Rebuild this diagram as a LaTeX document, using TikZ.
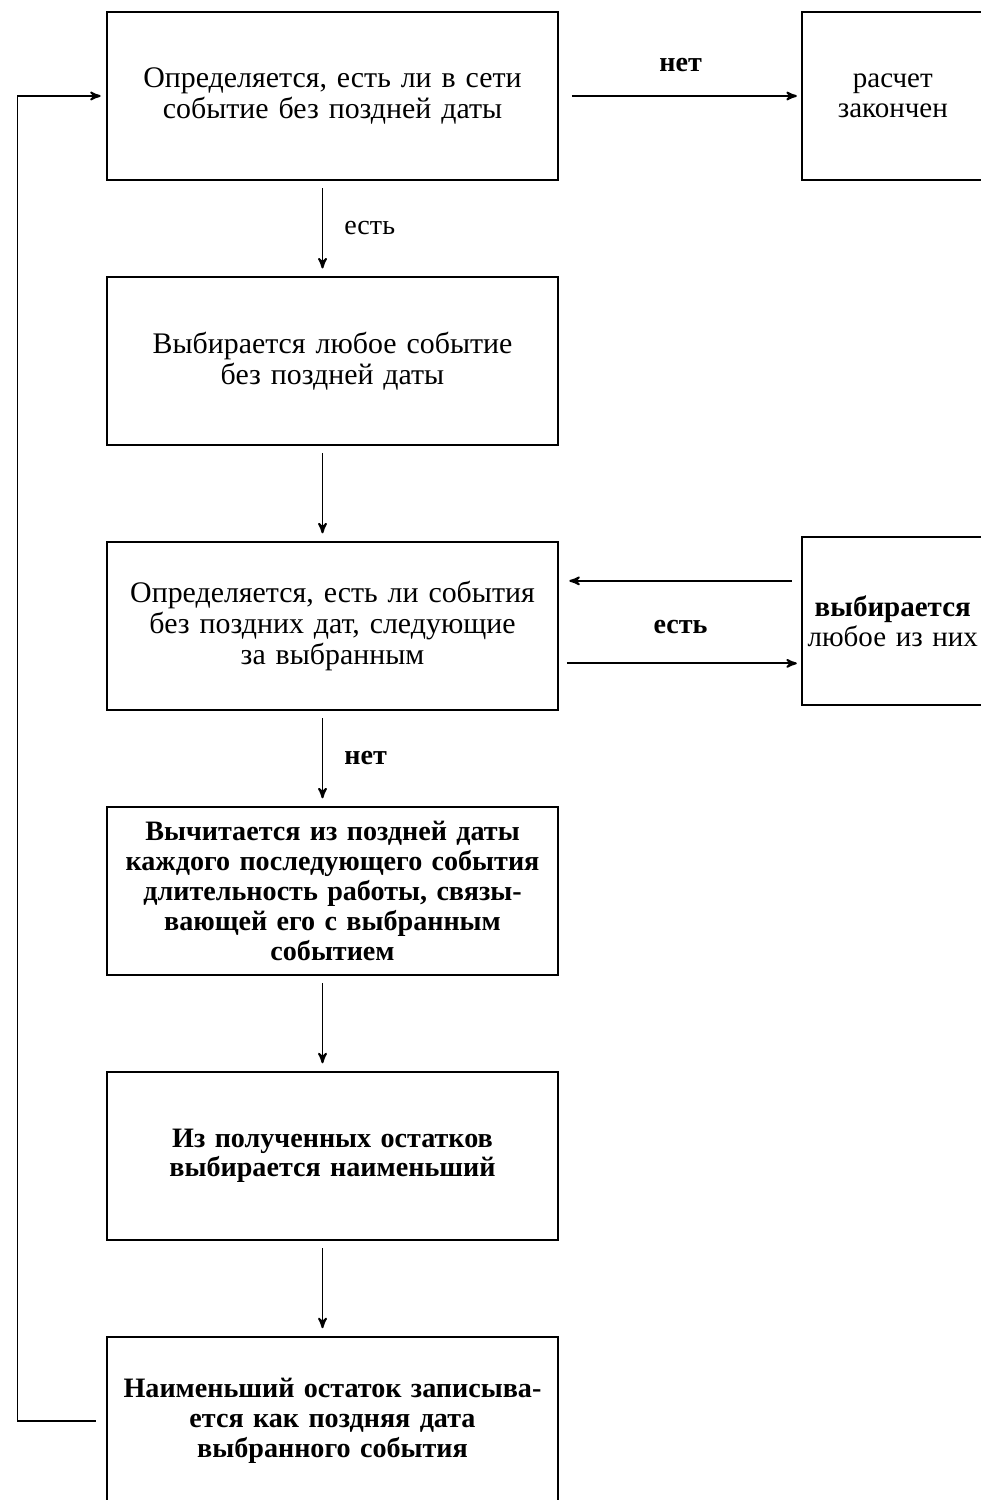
\documentclass[tikz,border=0pt]{standalone}
\usepackage{fontspec}
\setmainfont{Liberation Serif}
\usetikzlibrary{arrows,positioning}
\tikzset{
    %Define standard arrow tip
    >=stealth',
    blok/.style={
      rectangle,
      draw=black,
      minimum width=8.9cm,
      minimum height=3.36cm,
      text width=8.8cm,
      align=center,
      font=\fontsize{17}{17.5}\selectfont},
    zhirblok/.style={
      blok,
      font=\fontsize{16}{17}\selectfont\bfseries},
    itog/.style={
      rectangle,
      minimum width=3.6cm,
      minimum height=3.32cm,
      text width=3.6cm,
      inner sep=0pt,
      align=center,
      font=\fontsize{16.5}{17}\selectfont},
    metka/.style={
      font=\fontsize{16}{17}\selectfont},
    strelka/.style={
      ->, shorten <=0.15cm, shorten >=0.15cm},
}

\begin{document}
\begin{tikzpicture}[node distance=1.9cm, line width=1.1pt]
    \useasboundingbox (0,0) rectangle (19.6,-30);
    \node (b1) [blok] at (6.65,-1.92)
          {Определяется, есть ли в сети\\событие без поздней даты};
    \node (b2) [blok] [below=of b1]
          {Выбирается любое событие\\без поздней даты};
    \node (b3) [blok] [below=of b2]
          {Определяется, есть ли события\\без поздних дат, следующие\\за выбранным};
    \node (b4) [zhirblok] [below=of b3]
          {Вычитается из поздней даты\\каждого последующего события\\длительность работы, связы-\\вающей его с выбранным\\событием};
    \node (b5) [zhirblok] [below=of b4]
          {Из полученных остатков\\выбирается наименьший};
    \node (b6) [zhirblok] [below=of b5]
          {Наименьший остаток записыва-\\ется как поздняя дата\\выбранного события};
    \node (konec) [itog] [right=4.85cm of b1]
          {расчет\\закончен};
    \node (vybor) [itog] [right=4.85cm of b3, yshift=0.1cm]
          {\textbf{выбирается}\\любое из них};
    \coordinate (obhod) at (0.35,0);

    % open boxes on the right
    \draw (konec.north east) -- (konec.north west)
          -- (konec.south west) -- (konec.south east);
    \draw (vybor.north east) -- (vybor.north west)
          -- (vybor.south west) -- (vybor.south east);

    % connectors
    \draw [strelka, shorten <=0.25cm, shorten >=0.1cm] (b1.east) -- (konec.west)
          node [metka, midway, above=0.35cm] {\textbf{нет}};
    \draw [strelka] ([xshift=-2mm]b1.south) -- ([xshift=-2mm]b2.north)
          node [metka, midway, right=0.3cm] {есть};
    \draw [strelka] ([xshift=-2mm]b2.south) -- ([xshift=-2mm]b3.north);
    \draw [strelka, shorten <=0.2cm, shorten >=0.2cm] ([yshift=0.9cm]b3.east -| vybor.west) -- ([yshift=0.9cm]b3.east);
    \draw [strelka, shorten >=0.1cm] ([yshift=-0.75cm]b3.east) -- ([yshift=-0.75cm]b3.east -| vybor.west)
          node [metka, midway, above=0.45cm] {\textbf{есть}};
    \draw [strelka] ([xshift=-2mm]b3.south) -- ([xshift=-2mm]b4.north)
          node [metka, midway, right=0.3cm] {\textbf{нет}};
    \draw [strelka] ([xshift=-2mm]b4.south) -- ([xshift=-2mm]b5.north);
    \draw [strelka] ([xshift=-2mm]b5.south) -- ([xshift=-2mm]b6.north);
    \draw [->, shorten <=0.2cm, shorten >=0.1cm] (b6.west) -- (b6.west -| obhod)
          |- (b1.west);
\end{tikzpicture}
\end{document}
